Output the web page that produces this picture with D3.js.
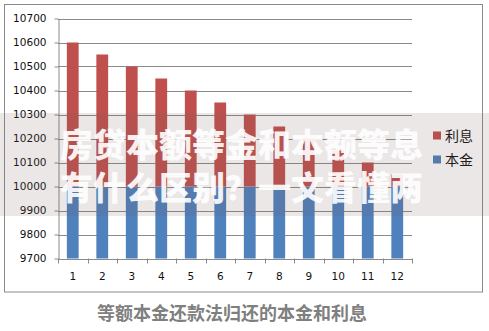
<!DOCTYPE html>
<html><head><meta charset="utf-8">
<script src="https://cdn.jsdelivr.net/npm/d3@7"></script>
<style>body{margin:0;background:#fff;}svg{display:block;}</style>
</head><body>
<script>
const months = ["1","2","3","4","5","6","7","8","9","10","11","12"];
const principal = [10000,10000,10000,10000,10000,10000,10000,10000,10000,10000,10000,10000];
const interest = [600,550,500,450,400,350,300,250,200,150,100,50];
const yTicks = [9700,9800,9900,10000,10100,10200,10300,10400,10500,10600,10700];
const seriesNames = ["利息","本金"];
const colors = {"利息":"#c0504d","本金":"#4f81bd"};
const overlayLines = ["房贷本额等金和本额等息","有什么区别？一文看懂两"];
const caption = "等额本金还款法归还的本金和利息";

const W=489,H=331;
const svg=d3.select("body").append("svg").attr("width",W).attr("height",H);
svg.append("rect").attr("width",W).attr("height",H).attr("fill","#fff");

// chart frame
svg.append("rect").attr("x",4.5).attr("y",4.5).attr("width",478).attr("height",287.5)
  .attr("fill","#fff").attr("stroke","#8a8a8a").attr("stroke-width",1);

const m={l:58,r:412,t:18.5,b:258.5};
const x=d3.scaleBand().domain(months).range([m.l,m.r]).paddingInner(0.6).paddingOuter(0.3);
const xb=d3.scaleBand().domain(months).range([m.l,m.r]);
const y=d3.scaleLinear().domain([9700,10700]).range([m.b,m.t]);

// gridlines
svg.append("g").selectAll("line").data(yTicks.slice(1)).join("line")
  .attr("x1",m.l).attr("x2",m.r).attr("y1",d=>Math.round(y(d))+0.5).attr("y2",d=>Math.round(y(d))+0.5)
  .attr("stroke","#8a8a8a").attr("stroke-width",1);

const data=months.map((mo,i)=>({mo,p:principal[i],it:interest[i]}));
svg.append("g").selectAll("rect").data(data).join("rect")
  .attr("x",d=>x(d.mo)).attr("width",x.bandwidth())
  .attr("y",d=>y(d.p)).attr("height",d=>y(9700)-y(d.p))
  .attr("fill",colors["本金"]);
svg.append("g").selectAll("rect").data(data).join("rect")
  .attr("x",d=>x(d.mo)).attr("width",x.bandwidth())
  .attr("y",d=>y(d.p+d.it)).attr("height",d=>y(d.p)-y(d.p+d.it))
  .attr("fill",colors["利息"]);

// axes
const ya=d3.axisLeft(y).tickValues(yTicks).tickSize(4).tickSizeOuter(0).tickPadding(8).tickFormat(d3.format("d"));
const gy=svg.append("g").attr("transform",`translate(${m.l+0.5},0)`).call(ya);
gy.select(".domain").attr("stroke","#8a8a8a");
gy.selectAll(".tick line").attr("stroke","#8a8a8a");
gy.selectAll("text").attr("font-family","DejaVu Sans").attr("font-size","10.5px").attr("fill","#111");

const xa=d3.axisBottom(xb).tickSize(0).tickPadding(14);
const gx=svg.append("g").attr("transform",`translate(0,${m.b+0.5})`).call(xa);
gx.select(".domain").attr("stroke","#8a8a8a");
gx.selectAll("text").attr("font-family","DejaVu Sans").attr("font-size","10.5px").attr("fill","#111");
svg.append("g").selectAll("line").data(months.concat(["end"])).join("line")
  .attr("x1",(d,i)=>Math.round(m.l+i*xb.step())+0.5).attr("x2",(d,i)=>Math.round(m.l+i*xb.step())+0.5)
  .attr("y1",m.b).attr("y2",m.b+5).attr("stroke","#8a8a8a");

// legend
const lg=svg.append("g");
seriesNames.forEach((s,i)=>{
  const yy=135.5+i*24;
  lg.append("rect").attr("x",433).attr("y",yy-4).attr("width",8).attr("height",8).attr("fill",colors[s]);
  lg.append("text").attr("x",445).attr("y",yy+5).attr("font-family","Noto Sans CJK SC").attr("font-size","14px").attr("fill","#111").text(s);
});

// overlay band
svg.append("rect").attr("x",0).attr("y",113).attr("width",W).attr("height",103)
  .attr("fill","#7a5c5c").attr("opacity",0.15);
svg.append("g").selectAll("text").data(overlayLines).join("text")
  .attr("x",60).attr("y",(d,i)=>157+i*43)
  .attr("font-family","Noto Sans CJK SC").attr("font-weight","900").attr("font-size","33px")
  .attr("fill","#fff").attr("opacity",0.9).text(d=>d);

// caption
svg.append("text").attr("x",232).attr("y",320).attr("text-anchor","middle")
  .attr("font-family","Noto Sans CJK SC").attr("font-weight","bold").attr("font-size","18px")
  .attr("fill","#7f7f7f").text(caption);
</script>
</body></html>
